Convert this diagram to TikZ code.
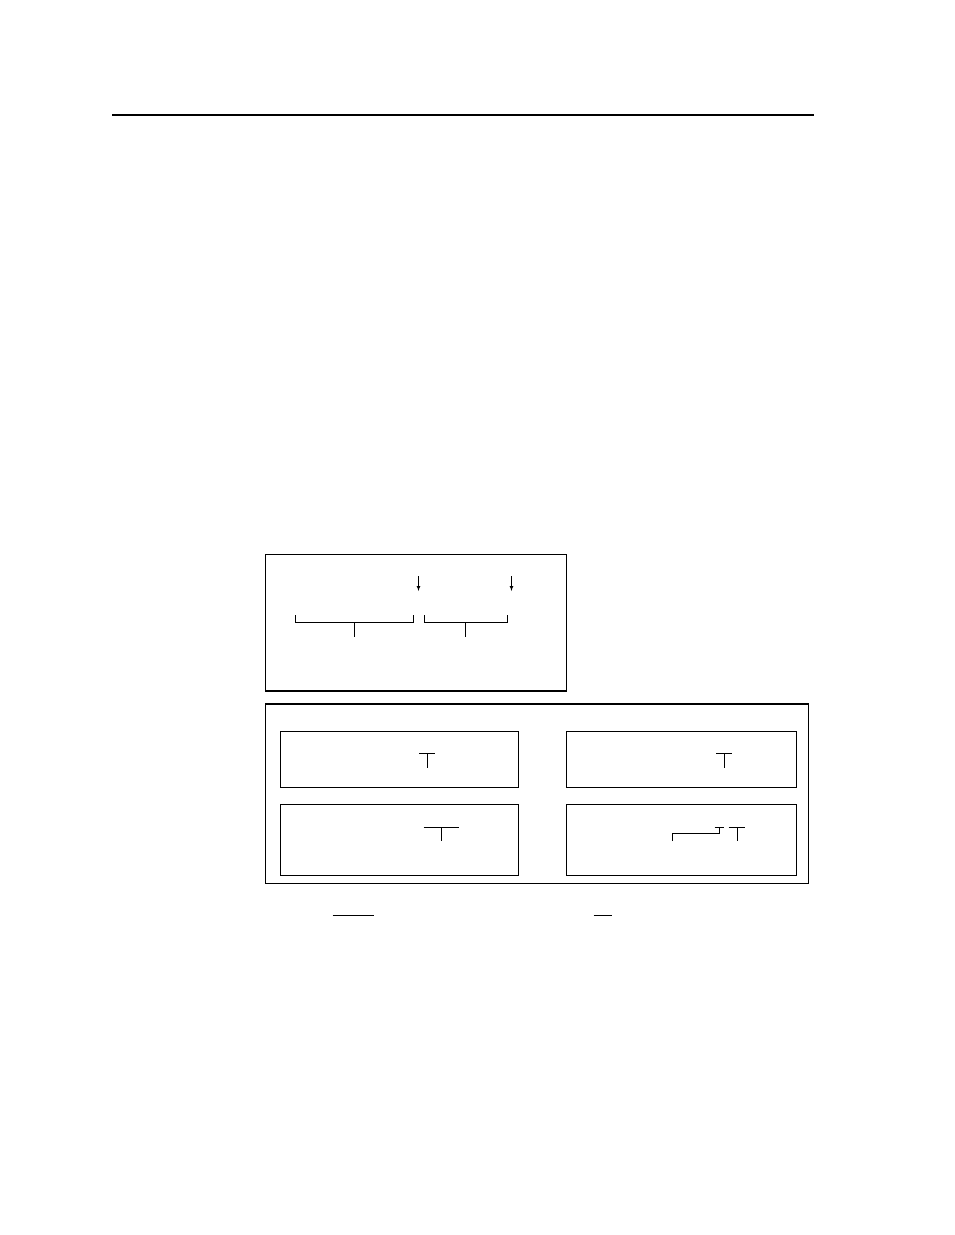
\documentclass[tikz,border=0pt]{standalone}
\usetikzlibrary{arrows}
\usetikzlibrary{positioning}
\begin{document}
\begin{tikzpicture}[x=1pt,y=-1pt,line width=0.9pt,
  box/.style={draw,line width=1pt,inner sep=0pt,anchor=north west},
  thickedge/.style={line width=2pt}]
  \useasboundingbox (0,0) rectangle (954,1235);
  \coordinate (rl) at (112,115);
  \coordinate (rr) at (814,115);
  \draw[line width=2.8pt] (rl)--(rr);

  % upper frame
  \node[box,minimum width=301pt,minimum height=136pt] (upper) at (265,554) {};
  \draw[thickedge] (upper.south west)--(upper.south east);
  \coordinate (a1) at (418.5,576);
  \coordinate (a1e) at (418.5,591);
  \coordinate (a2) at (511.5,576);
  \coordinate (a2e) at (511.5,591);
  \draw[-latex,line width=0.7pt] (a1)--(a1e);
  \draw[-latex,line width=0.7pt] (a2)--(a2e);
  \coordinate (b1l) at (295,622);
  \coordinate (b1r) at (413,622);
  \coordinate (b1m) at (354.5,622);
  \coordinate (b1s) at (354.5,637);
  \coordinate (b2l) at (424.5,622);
  \coordinate (b2r) at (507,622);
  \coordinate (b2m) at (465,622);
  \coordinate (b2s) at (465,637);
  \draw (b1l) ++(0,-7) -- (b1l) -- (b1r) -- ++(0,-7);
  \draw (b1m)--(b1s);
  \draw (b2l) ++(0,-7) -- (b2l) -- (b2r) -- ++(0,-7);
  \draw (b2m)--(b2s);

  % lower frame
  \node[box,minimum width=543pt,minimum height=179pt] (lower) at (265,704) {};
  \draw[thickedge] (lower.north west)--(lower.north east);
  \node[box,minimum width=238pt,minimum height=56pt] (A) at (280,731) {};
  \node[box,minimum width=230pt,minimum height=56pt] (B) at (566,731) {};
  \node[box,minimum width=238pt,minimum height=71pt] (C) at (280,804) {};
  \node[box,minimum width=230pt,minimum height=71pt] (D) at (566,804) {};

  \coordinate (tAl) at (419,753);
  \coordinate (tAr) at (435,753);
  \coordinate (tAm) at (427,753);
  \coordinate (tAs) at (427,768);
  \draw (tAl)--(tAr) (tAm)--(tAs);
  \coordinate (tBl) at (716,753);
  \coordinate (tBr) at (732,753);
  \coordinate (tBm) at (724,753);
  \coordinate (tBs) at (724,768);
  \draw (tBl)--(tBr) (tBm)--(tBs);
  \coordinate (tCl) at (423.5,827);
  \coordinate (tCr) at (458.5,827);
  \coordinate (tCm) at (441,827);
  \coordinate (tCs) at (441,841);
  \draw (tCl)--(tCr) (tCm)--(tCs);
  \coordinate (d1) at (672,841);
  \coordinate (d2) at (672,833);
  \coordinate (d3) at (719,833);
  \coordinate (d4) at (719,827);
  \draw (d1)--(d2)--(d3)--(d4);
  \coordinate (kl) at (714.5,827);
  \coordinate (kr) at (723.5,827);
  \draw (kl)--(kr);
  \coordinate (tDl) at (728.5,827);
  \coordinate (tDr) at (745,827);
  \coordinate (tDm) at (737,827);
  \coordinate (tDs) at (737,841);
  \draw (tDl)--(tDr) (tDm)--(tDs);

  \coordinate (u1l) at (332.5,915);
  \coordinate (u1r) at (373.5,915);
  \coordinate (u2l) at (593.5,915);
  \coordinate (u2r) at (611.5,915);
  \draw (u1l)--(u1r);
  \draw (u2l)--(u2r);
\end{tikzpicture}
\end{document}
